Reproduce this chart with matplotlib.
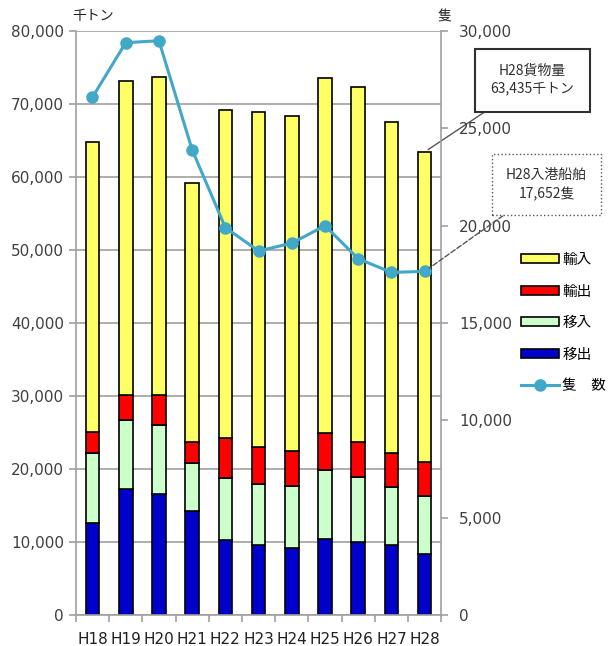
import matplotlib.pyplot as plt
from matplotlib.patches import Patch
from matplotlib.lines import Line2D
import numpy as np

plt.rcParams['font.family'] = ['DejaVu Sans', 'Noto Sans CJK JP']

years = ["H18", "H19", "H20", "H21", "H22", "H23", "H24", "H25", "H26", "H27", "H28"]
# 千トン
ishutsu = [12600, 17200, 16600, 14300, 10300, 9600, 9200, 10400, 10000, 9600, 8300]      # 移出
inyu = [9600, 9500, 9400, 6500, 8400, 8300, 8500, 9400, 8900, 8000, 8000]               # 移入
yushutsu = [2800, 3500, 4100, 2900, 5600, 5100, 4800, 5100, 4800, 4600, 4600]           # 輸出
total = [64800, 73200, 73700, 59200, 69200, 68900, 68400, 73600, 72300, 67500, 63435]
yunyu = [t - a - b - c for t, a, b, c in zip(total, ishutsu, inyu, yushutsu)]           # 輸入
# 隻
ships = [26600, 29400, 29500, 23900, 19900, 18700, 19100, 20000, 18300, 17600, 17652]

jp = ['Noto Sans CJK JP', 'DejaVu Sans']
gray = '#404040'

fig = plt.figure(figsize=(6.12, 6.46), dpi=100)
ax = fig.add_axes([0.124, 0.048, 0.597, 0.904])
x = np.arange(len(years))
w = 0.41

ax.set_axisbelow(True)
ax.yaxis.grid(True, color='#a0a0a0', lw=1.2)
b1 = ax.bar(x, ishutsu, w, color='#0000CC', edgecolor='black', lw=1.2, zorder=2)
b2 = ax.bar(x, inyu, w, bottom=ishutsu, color='#CCFFCC', edgecolor='black', lw=1.2, zorder=2)
bot = np.array(ishutsu) + np.array(inyu)
b3 = ax.bar(x, yushutsu, w, bottom=bot, color='#FF0000', edgecolor='black', lw=1.2, zorder=2)
bot = bot + np.array(yushutsu)
b4 = ax.bar(x, yunyu, w, bottom=bot, color='#FFFF66', edgecolor='black', lw=1.2, zorder=2)

ax.set_xlim(-0.5, len(years) - 0.5)
ax.set_ylim(0, 80000)
ax.set_yticks(range(0, 80001, 10000))
ax.set_yticklabels([f"{v:,}" for v in range(0, 80001, 10000)], fontsize=11, color=gray)
ax.set_xticks(x)
ax.set_xticklabels(years, fontsize=11, color='#202020')
ax.set_xticks(np.arange(-0.5, len(years), 1), minor=True)
ax.tick_params(axis='x', which='major', length=0, pad=12)
ax.tick_params(axis='x', which='minor', length=5, color='#a0a0a0', width=1.2)
ax.tick_params(axis='y', length=5, color='#a0a0a0', width=1.2)
for s in ['top', 'right']:
    ax.spines[s].set_visible(False)
ax.spines['left'].set_color('#a0a0a0')
ax.spines['bottom'].set_color('#a0a0a0')
ax.spines['left'].set_linewidth(1.2)
ax.spines['bottom'].set_linewidth(1.2)

ax2 = ax.twinx()
ax2.plot(x, ships, color='#41A8C8', lw=2.2, marker='o', ms=8, zorder=3)
ax2.set_ylim(0, 30000)
ax2.set_yticks(range(0, 30001, 5000))
ax2.set_yticklabels([f"{v:,}" for v in range(0, 30001, 5000)], fontsize=11, color=gray)
ax2.tick_params(axis='y', length=5, color='#a0a0a0', width=1.2, pad=8)
for s in ['top', 'left', 'bottom']:
    ax2.spines[s].set_visible(False)
ax2.spines['right'].set_color('#a0a0a0')
ax2.spines['right'].set_linewidth(1.2)

fig.text(0.118, 0.975, "千トン", fontsize=10, family=jp, ha='left', va='center', color='#202020')
fig.text(0.715, 0.975, "隻", fontsize=10, family=jp, ha='left', va='center', color='#202020')

# annotations
ax.annotate("H28貨物量\n63,435千トン", xy=(10, total[-1]), xycoords='data',
            xytext=(0.870, 0.876), textcoords='figure fraction',
            fontsize=10, family=jp, ha='center', va='center', color='#303030', linespacing=1.4,
            bbox=dict(boxstyle='square,pad=1.1', fc='white', ec='#303030', lw=1.5),
            arrowprops=dict(arrowstyle='-', color='#555555', lw=1, shrinkA=0, shrinkB=3),
            annotation_clip=False)
ax2.annotate("H28入港船舶\n17,652隻", xy=(10, ships[-1]), xycoords='data',
             xytext=(0.893, 0.714), textcoords='figure fraction',
             fontsize=10, family=jp, ha='center', va='center', color='#303030', linespacing=1.4,
             bbox=dict(boxstyle='square,pad=1.0', fc='white', ec='#555555', lw=1, ls=':'),
             arrowprops=dict(arrowstyle='-', color='#555555', lw=1, ls='--', shrinkA=0, shrinkB=4),
             annotation_clip=False)

handles = [Patch(fc='#FFFF66', ec='black', lw=1.2), Patch(fc='#FF0000', ec='black', lw=1.2),
           Patch(fc='#CCFFCC', ec='black', lw=1.2), Patch(fc='#0000CC', ec='black', lw=1.2),
           Line2D([], [], color='#41A8C8', lw=2.2, marker='o', ms=8)]
labels = ["輸入", "輸出", "移入", "移出", "隻　数"]
fig.legend(handles, labels, loc='center left', bbox_to_anchor=(0.852, 0.50),
           frameon=False, prop={'family': jp, 'size': 10.5}, borderaxespad=0, borderpad=0,
           handlelength=2.6, handleheight=0.55, labelspacing=1.2, handletextpad=0.2)

fig.savefig("out.png", dpi=100)
